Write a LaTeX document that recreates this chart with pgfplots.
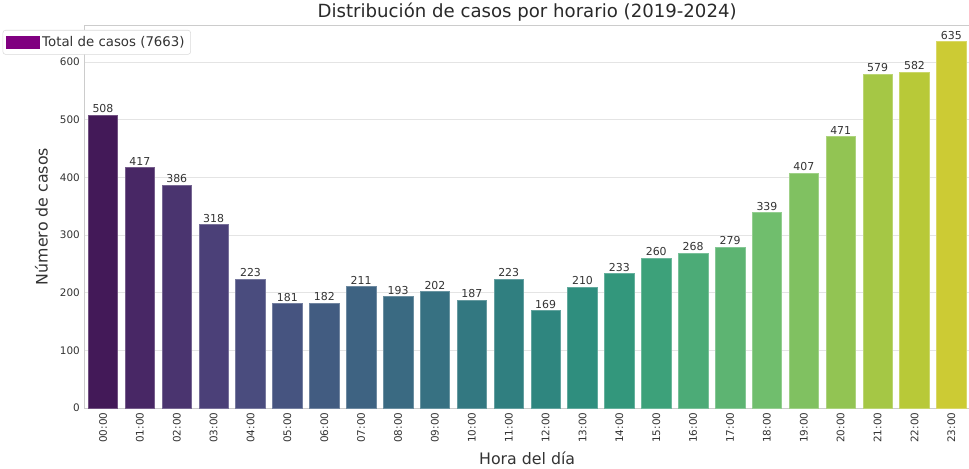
\documentclass[border=0pt]{standalone}
\usepackage{fontspec}
\setmainfont{DejaVu Sans}
\usepackage{pgfplots}
\pgfplotsset{compat=1.18}
\definecolor{c0}{RGB}{67,25,88}
\definecolor{c1}{RGB}{72,39,101}
\definecolor{c2}{RGB}{74,52,111}
\definecolor{c3}{RGB}{75,64,120}
\definecolor{c4}{RGB}{74,76,126}
\definecolor{c5}{RGB}{70,84,128}
\definecolor{c6}{RGB}{66,92,129}
\definecolor{c7}{RGB}{62,99,130}
\definecolor{c8}{RGB}{58,106,130}
\definecolor{c9}{RGB}{55,113,130}
\definecolor{c10}{RGB}{51,120,129}
\definecolor{c11}{RGB}{48,127,128}
\definecolor{c12}{RGB}{47,134,127}
\definecolor{c13}{RGB}{47,142,126}
\definecolor{c14}{RGB}{51,151,124}
\definecolor{c15}{RGB}{61,161,122}
\definecolor{c16}{RGB}{76,171,119}
\definecolor{c17}{RGB}{93,180,114}
\definecolor{c18}{RGB}{112,190,109}
\definecolor{c19}{RGB}{128,193,97}
\definecolor{c20}{RGB}{146,196,83}
\definecolor{c21}{RGB}{165,199,69}
\definecolor{c22}{RGB}{184,201,56}
\definecolor{c23}{RGB}{204,203,52}
\definecolor{legpurple}{RGB}{128,0,128}
\definecolor{txtgray}{RGB}{51,51,51}
\definecolor{spine}{RGB}{204,204,204}
\definecolor{gridc}{RGB}{228,228,228}
\pgfplotsset{
  hbar/.style={ybar, bar width=0.8, bar shift=0pt, fill=#1, draw=#1!75!white, line width=0.4pt, forget plot,
    nodes near coords, every node near coord/.append style={font=\fontsize{8.2}{9}\selectfont, text=txtgray, inner sep=1.5pt}}
}
\begin{document}
\begin{tikzpicture}
\begin{axis}[
  at={(0,0)}, anchor=south west,
  scale only axis, width=664pt, height=287.25pt,
  xmin=-0.5, xmax=23.5, ymin=0, ymax=664,
  xtick={0,...,23},
  xticklabels={00:00,01:00,02:00,03:00,04:00,05:00,06:00,07:00,08:00,09:00,10:00,11:00,12:00,13:00,14:00,15:00,16:00,17:00,18:00,19:00,20:00,21:00,22:00,23:00},
  x tick label style={rotate=90, anchor=east, font=\fontsize{7.8}{9}\selectfont, text=txtgray},
  ytick={0,100,...,600},
  y tick label style={font=\fontsize{7.8}{9}\selectfont, text=txtgray},
  /pgf/number format/assume math mode=true,
  major tick length=0pt,
  ymajorgrids, grid style={gridc, line width=0.6pt},
  axis line style={spine, line width=0.6pt},
  every axis title shift=0pt,
  title={Distribución de casos por horario (2019-2024)},
  title style={at={(axis description cs:0.5,1)}, anchor=base, yshift=5.5pt, font=\fontsize{13.6}{15}\selectfont, text=txtgray!80!black},
  xlabel={Hora del día},
  xlabel style={at={(axis description cs:0.5,0)}, anchor=base, yshift=-42.75pt, font=\fontsize{11.85}{14}\selectfont, text=txtgray},
  ylabel={Número de casos},
  ylabel style={at={(axis description cs:0,0.5)}, anchor=base, yshift=27.75pt, font=\fontsize{11.85}{14}\selectfont, text=txtgray},
  legend style={at={(axis description cs:-0.0925,0.987)}, anchor=north west, draw=gray!30, rounded corners=2pt, fill=white, font=\fontsize{10}{12}\selectfont, text=txtgray, inner sep=2.5pt},
  legend image code/.code={\pgfsetcornersarced{\pgfpointorigin}\fill[#1] (0pt,-3.75pt) rectangle (18pt,3.75pt); \path (-1pt,-5pt) rectangle (24pt,5pt);},
  clip=false,
]
\addlegendimage{fill=legpurple, draw=none}
\addlegendentry{Total de casos (7663)}
\addplot[hbar=c0] coordinates {(0,508)};
\addplot[hbar=c1] coordinates {(1,417)};
\addplot[hbar=c2] coordinates {(2,386)};
\addplot[hbar=c3] coordinates {(3,318)};
\addplot[hbar=c4] coordinates {(4,223)};
\addplot[hbar=c5] coordinates {(5,181)};
\addplot[hbar=c6] coordinates {(6,182)};
\addplot[hbar=c7] coordinates {(7,211)};
\addplot[hbar=c8] coordinates {(8,193)};
\addplot[hbar=c9] coordinates {(9,202)};
\addplot[hbar=c10] coordinates {(10,187)};
\addplot[hbar=c11] coordinates {(11,223)};
\addplot[hbar=c12] coordinates {(12,169)};
\addplot[hbar=c13] coordinates {(13,210)};
\addplot[hbar=c14] coordinates {(14,233)};
\addplot[hbar=c15] coordinates {(15,260)};
\addplot[hbar=c16] coordinates {(16,268)};
\addplot[hbar=c17] coordinates {(17,279)};
\addplot[hbar=c18] coordinates {(18,339)};
\addplot[hbar=c19] coordinates {(19,407)};
\addplot[hbar=c20] coordinates {(20,471)};
\addplot[hbar=c21] coordinates {(21,579)};
\addplot[hbar=c22] coordinates {(22,582)};
\addplot[hbar=c23] coordinates {(23,635)};
\end{axis}
\pgfresetboundingbox
\useasboundingbox (-63.4pt,-45.75pt) rectangle (663.4pt,306pt);
\end{tikzpicture}
\end{document}
